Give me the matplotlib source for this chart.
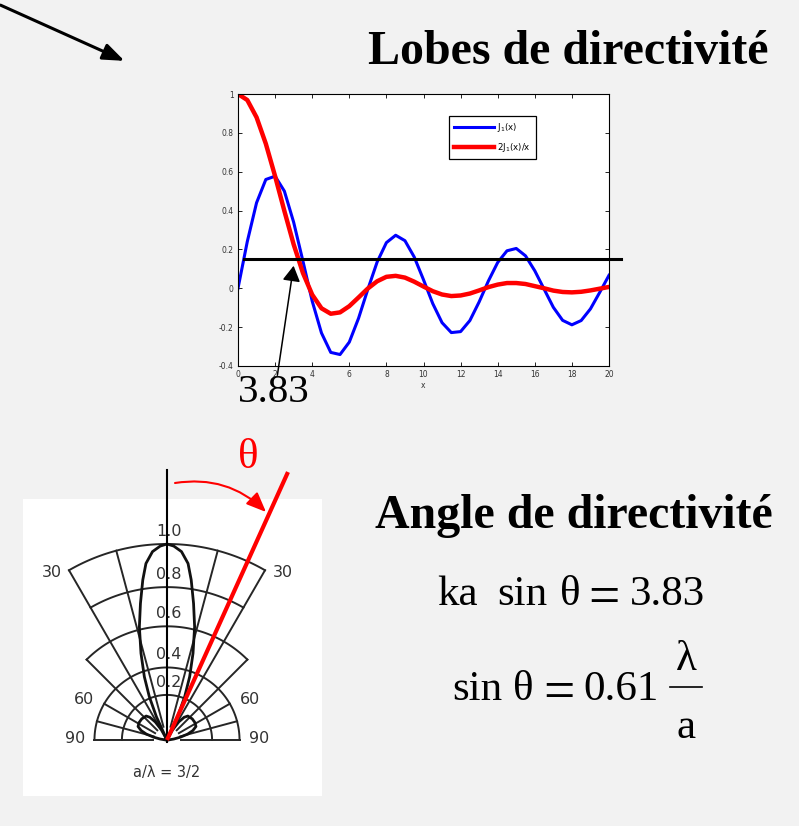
import numpy as np
import matplotlib
matplotlib.use("Agg")
import matplotlib.pyplot as plt

# --- data ---
x_vals = np.arange(0, 20.5, 0.5)
j1_vals = [0.0, 0.24, 0.44, 0.56, 0.577, 0.50, 0.34, 0.14, -0.066, -0.23,
           -0.33, -0.341, -0.277, -0.154, -0.005, 0.135, 0.235, 0.273, 0.245, 0.161,
           0.044, -0.079, -0.177, -0.228, -0.223, -0.166, -0.07, 0.038, 0.133, 0.193,
           0.205, 0.167, 0.09, -0.004, -0.098, -0.165, -0.188, -0.166, -0.106, -0.021, 0.067]
airy_vals = [1.0, 0.969, 0.88, 0.744, 0.577, 0.398, 0.226, 0.079, -0.033, -0.103,
             -0.131, -0.124, -0.092, -0.047, -0.001, 0.036, 0.059, 0.064, 0.055, 0.034,
             0.009, -0.015, -0.032, -0.04, -0.037, -0.027, -0.011, 0.006, 0.019, 0.027,
             0.027, 0.022, 0.011, 0.0, -0.012, -0.019, -0.021, -0.018, -0.011, -0.002, 0.007]
level = 0.15

# polar diagram (a/lambda = 3/2), half pattern, angle from axis in degrees
main_deg = [0, 2, 4.4, 6.8, 8.6, 11, 13.7, 16.7, 19.7, 22.2, 24.5, 26]
main_r = [1.0, 0.99, 0.964, 0.907, 0.826, 0.71, 0.595, 0.462, 0.343, 0.239, 0.13, 0.0]
side_deg = [26, 29, 33, 37, 41, 50, 58, 65, 70, 74, 78, 82, 86, 90]
side_r = [0.0, 0.06, 0.11, 0.145, 0.162, 0.168, 0.168, 0.163, 0.14, 0.11, 0.07, 0.035, 0.01, 0.0]
ring_r = [1.0, 0.78, 0.58, 0.37, 0.23]
ring_span = [30, 30, 45, 90, 90]
ring_labels = ["1.0", "0.8", "0.6", "0.4", "0.2"]
spoke_deg = [15, 30, 45, 60, 75, 90]
spoke_end = [1.0, 1.0, 0.58, 0.37, 0.37, 0.37]
angle_labels = ["30", "60", "90"]
angle_lab_deg = [34.5, 64, 89]
angle_lab_r = [1.04, 0.47, 0.47]
theta_deg = 24.3

serif = "Liberation Serif"
fig = plt.figure(figsize=(7.99, 8.26), dpi=100, facecolor="#f2f2f2")

# ---------- Bessel plot ----------
ax = fig.add_axes([238 / 799, 1 - 366 / 826, 371 / 799, 272 / 826])
ax.set_facecolor("white")
ax.plot(x_vals, j1_vals, color="#0000ff", lw=2.2, label=r"J$_1$(x)")
ax.plot(x_vals, airy_vals, color="#ff0000", lw=3.2, label=r"2J$_1$(x)/x")
ax.set_xlim(0, 20)
ax.set_ylim(-0.4, 1)
ax.set_xticks(np.arange(0, 21, 2))
ax.set_yticks([-0.4, -0.2, 0, 0.2, 0.4, 0.6, 0.8, 1])
ax.set_yticklabels(["-0.4", "-0.2", "0", "0.2", "0.4", "0.6", "0.8", "1"])
ax.tick_params(direction="in", length=3, width=0.6, top=True, right=True,
               labelsize=5.5, labelcolor="#333333", pad=3)
for s in ax.spines.values():
    s.set_linewidth(0.8)
ax.set_xlabel("x", fontsize=5.5, color="#333333", labelpad=1)
leg = ax.legend(loc="upper left", bbox_to_anchor=(0.557, 0.936), fontsize=6.2,
                handlelength=4.6, fancybox=False, framealpha=1, edgecolor="black",
                borderpad=0.6, labelspacing=0.8, handletextpad=0.4)
leg.get_frame().set_linewidth(0.9)
ax.plot([0.35, 20.65], [level, level], color="black", lw=2.2, clip_on=False, zorder=5)
ax.annotate("", xy=(3.02, 0.13), xytext=(2.1, -0.462),
            arrowprops=dict(arrowstyle="-|>,head_length=0.47,head_width=0.27",
                            mutation_scale=20, lw=1.1, color="black"))

# ---------- polar diagram ----------
pol = fig.add_axes([23 / 799, 1 - 796 / 826, 299 / 799, 297 / 826])
pol.set_facecolor("white")
pol.set_xlim(-144 / 196, 155 / 196)
pol.set_ylim(-56 / 196, 241 / 196)
for s in pol.spines.values():
    s.set_visible(False)
pol.set_xticks([])
pol.set_yticks([])
gc = "#262626"
for r, sp in zip(ring_r, ring_span):
    t = np.radians(np.linspace(-sp, sp, 100))
    pol.plot(r * np.sin(t), r * np.cos(t), color=gc, lw=1.4)
for d, re in zip(spoke_deg, spoke_end):
    for sgn in (-1, 1):
        t = np.radians(sgn * d)
        pol.plot([0.07 * np.sin(t), re * np.sin(t)], [0.07 * np.cos(t), re * np.cos(t)],
                 color=gc, lw=1.4)
for lab, r in zip(ring_labels, ring_r):
    pol.text(0.01, r + 0.065, lab, ha="center", va="center", fontsize=11.5, color="#333333")
for lab, d, r in zip(angle_labels, angle_lab_deg, angle_lab_r):
    for sgn in (-1, 1):
        t = np.radians(sgn * d)
        pol.text(r * np.sin(t), r * np.cos(t), lab, ha="center", va="center",
                 fontsize=11.5, color="#333333")
pol.text(0, -0.165, "a/λ = 3/2", ha="center", va="center", fontsize=10.5, color="#333333")
for degs, rs in ((main_deg, main_r), (side_deg, side_r)):
    lt = np.radians(np.array(degs))
    lr = np.array(rs)
    pol.plot(lr * np.sin(lt), lr * np.cos(lt), color="#111111", lw=2)
    pol.plot(-lr * np.sin(lt), lr * np.cos(lt), color="#111111", lw=2)
pol.plot([0, 0], [-0.01, 1.38], color="black", lw=1.5, clip_on=False)
tr = np.radians(theta_deg)
pol.plot([0, 1.5 * np.sin(tr)], [0, 1.5 * np.cos(tr)], color="#ff0000", lw=3, clip_on=False,
         solid_capstyle="butt")

# ---------- overlay: texts and arrows ----------
ov = fig.add_axes([0, 0, 1, 1], zorder=10)
ov.set_xlim(0, 799)
ov.set_ylim(826, 0)
ov.axis("off")
ov.annotate("", xy=(127, 62), xytext=(-2, 4),
            arrowprops=dict(arrowstyle="-|>,head_length=0.65,head_width=0.25",
                            mutation_scale=20, lw=2.2, color="black"))
ov.text(568, 64, "Lobes de directivité", ha="center", va="baseline", fontsize=34.5,
        fontweight="bold", family=serif)
ov.text(574, 528, "Angle de directivité", ha="center", va="baseline", fontsize=34.5,
        fontweight="bold", family=serif)
ov.text(274, 402, "3.83", ha="center", va="baseline", fontsize=29.5, family=serif)
ov.text(248, 468, "θ", ha="center", va="baseline", fontsize=31, family=serif, color="#ff0000")
ov.annotate("", xy=(266, 512), xytext=(175, 483),
            arrowprops=dict(arrowstyle="-|>,head_length=0.6,head_width=0.25",
                            mutation_scale=20, lw=1.5, color="#ff0000",
                            connectionstyle="arc3,rad=-0.25", shrinkA=0, shrinkB=0))
# equations
eq = 31
ov.text(437, 605, "ka", ha="left", va="baseline", fontsize=eq, family=serif)
ov.text(497, 605, "sin", ha="left", va="baseline", fontsize=eq, family=serif)
ov.text(560, 605, "θ", ha="left", va="baseline", fontsize=eq, family=serif)
ov.text(604, 614, "=", ha="center", va="baseline", fontsize=40, family=serif)
ov.text(630, 605, "3.83", ha="left", va="baseline", fontsize=eq, family=serif)
ov.text(452, 700, "sin", ha="left", va="baseline", fontsize=eq, family=serif)
ov.text(513, 700, "θ", ha="left", va="baseline", fontsize=eq, family=serif)
ov.text(559, 709, "=", ha="center", va="baseline", fontsize=40, family=serif)
ov.text(583, 700, "0.61", ha="left", va="baseline", fontsize=eq, family=serif)
ov.text(686, 670, "λ", ha="center", va="baseline", fontsize=eq, family=serif)
ov.plot([670, 702], [687, 687], color="black", lw=1.2)
ov.text(686, 738, "a", ha="center", va="baseline", fontsize=eq, family=serif)

fig.savefig("out.png", dpi=100, facecolor=fig.get_facecolor())
